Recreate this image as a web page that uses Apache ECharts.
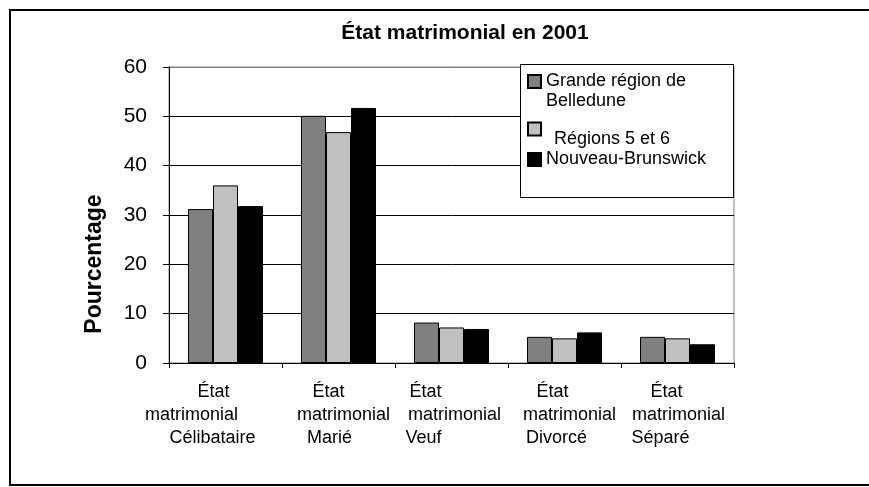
<!DOCTYPE html>
<html>
<head>
<meta charset="utf-8">
<script src="https://cdn.jsdelivr.net/npm/echarts@6/dist/echarts.min.js"></script>
<style>
  html, body { margin: 0; padding: 0; background: #fff; }
  #chart { width: 869px; height: 487px; }
</style>
</head>
<body>
<div id="chart"></div>
<script>
// ---- Data ----
const titleText = 'État matrimonial en 2001';
const yAxisTitle = 'Pourcentage';
const categories = [
  'État\nmatrimonial\nCélibataire',
  'État\nmatrimonial\nMarié',
  'État\nmatrimonial\nVeuf',
  'État\nmatrimonial\nDivorcé',
  'État\nmatrimonial\nSéparé'
];
const seriesNames = ['Grande région de\nBelledune', 'Régions 5 et 6', 'Nouveau-Brunswick'];
const belleduneValues = [31.2, 50.1, 8.2, 5.3, 5.3];
const regions56Values = [36.0, 46.8, 7.2, 5.0, 5.0];
const nbValues = [31.8, 51.7, 6.9, 6.2, 3.8];
const yTicks = [0, 10, 20, 30, 40, 50, 60];

// ---- Style / layout ----
const FONT = '"Liberation Sans", Arial, sans-serif';
const barColors = ['#808080', '#C0C0C0', '#000000'];
// horizontal shift (px) of each label line relative to the category centre
const lineShift = [
  [-12, -34, -13],
  [-10, 5, -9],
  [-26, 3, -28],
  [-12, 5, -8],
  [-11, 1, -17]
];

const rich = {};
lineShift.forEach((shifts, i) => {
  shifts.forEach((dx, j) => {
    const pad = dx < 0 ? [0, -2 * dx, 0, 0] : [0, 0, 0, 2 * dx];
    rich['l' + i + '_' + j] = {
      fontSize: 18, lineHeight: 23, color: '#000', fontFamily: FONT, padding: pad
    };
  });
});

const chart = echarts.init(document.getElementById('chart'), null, { renderer: 'canvas' });

const allValues = [belleduneValues, regions56Values, nbValues];
const legendText = { fontSize: 18, lineHeight: 20, color: '#000', fontFamily: FONT };

chart.setOption({
  animation: false,
  backgroundColor: '#fff',
  title: {
    text: titleText,
    left: 460,
    textAlign: 'center',
    top: 18,
    textStyle: { fontSize: 21, fontWeight: 'bold', color: '#000', fontFamily: FONT }
  },
  grid: {
    left: 169, right: 135, top: 67, bottom: 124,
    show: true, borderColor: '#808080', borderWidth: 1, backgroundColor: 'transparent'
  },
  legend: [
    {
      data: [seriesNames[0]], left: 527, top: 51.5, padding: 0, orient: 'vertical',
      itemWidth: 13, itemHeight: 13, icon: 'rect',
      formatter: n => '\n' + n,
      textStyle: Object.assign({}, legendText)
    },
    {
      data: [seriesNames[1]], left: 527, top: 109, padding: 0, orient: 'vertical',
      itemWidth: 13, itemHeight: 13, icon: 'rect',
      formatter: n => '\n' + n,
      textStyle: Object.assign({ padding: [0, 0, 0, 8] }, legendText)
    },
    {
      data: [seriesNames[2]], left: 527, top: 149.5, padding: 0, orient: 'vertical',
      itemWidth: 13, itemHeight: 13, icon: 'rect',
      textStyle: Object.assign({}, legendText)
    }
  ],
  xAxis: {
    type: 'category',
    data: categories,
    boundaryGap: true,
    axisLine: { show: true, lineStyle: { color: '#000', width: 1 } },
    axisTick: { show: true, length: 5, interval: 0, alignWithLabel: false, lineStyle: { color: '#000' } },
    axisLabel: {
      interval: 0,
      margin: 18,
      color: '#000',
      fontFamily: FONT,
      fontSize: 18,
      lineHeight: 23,
      align: 'center',
      formatter: function (value, idx) {
        return value.split('\n').map((line, j) => '{l' + idx + '_' + j + '|' + line + '}').join('\n');
      },
      rich: rich
    },
    splitLine: { show: false }
  },
  yAxis: {
    type: 'value',
    min: yTicks[0],
    max: yTicks[yTicks.length - 1],
    interval: yTicks[1] - yTicks[0],
    axisLine: { show: true, lineStyle: { color: '#000', width: 1 } },
    axisTick: { show: true, length: 6, inside: false, lineStyle: { color: '#000' } },
    axisLabel: { color: '#000', fontSize: 21, fontFamily: FONT, margin: 22 },
    splitLine: {
      show: true,
      lineStyle: { color: ['#000', '#000', '#000', '#000', '#000', '#000', '#808080'], width: 1 }
    }
  },
  series: seriesNames.map((name, k) => ({
    name: name,
    type: 'bar',
    data: allValues[k],
    barWidth: 25,
    barGap: '0%',
    itemStyle: { color: barColors[k], borderColor: '#000', borderWidth: 1 }
  })),
  graphic: {
    elements: [
      {
        type: 'rect',
        shape: { x: 10, y: 10, width: 866, height: 475 },
        style: { fill: 'none', stroke: '#000', lineWidth: 2 },
        z: 10, silent: true
      },
      {
        type: 'rect',
        shape: { x: 520.5, y: 64.5, width: 213, height: 133 },
        style: { fill: '#fff', stroke: '#000', lineWidth: 1 },
        z: 3, silent: true
      },
      {
        type: 'text',
        x: 95, y: 264,
        rotation: Math.PI / 2,
        style: {
          text: yAxisTitle, fontSize: 23, fontWeight: 'bold', fill: '#000', fontFamily: FONT,
          align: 'center', verticalAlign: 'middle'
        },
        silent: true
      }
    ]
  }
});
</script>
</body>
</html>
